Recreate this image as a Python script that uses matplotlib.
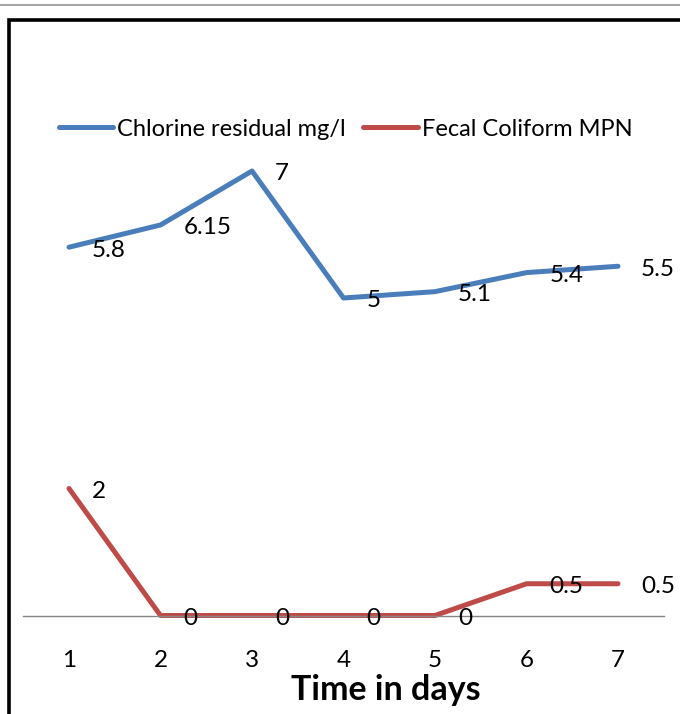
"""Chlorine residual and fecal coliform over seven days."""

import matplotlib
matplotlib.use("Agg")
import matplotlib.pyplot as plt
from matplotlib.lines import Line2D
from matplotlib.patches import Rectangle

days = [1, 2, 3, 4, 5, 6, 7]
day_labels = ["1", "2", "3", "4", "5", "6", "7"]
chlorine = [5.8, 6.15, 7, 5, 5.1, 5.4, 5.5]
chlorine_labels = ["5.8", "6.15", "7", "5", "5.1", "5.4", "5.5"]
coliform = [2, 0, 0, 0, 0, 0.5, 0.5]
coliform_labels = ["2", "0", "0", "0", "0", "0.5", "0.5"]

W, H = 680, 714
BLUE = "#4A7EBB"
RED = "#BE4B48"

plt.rcParams["font.family"] = ["Lato", "DejaVu Sans"]


def px(x, y):
    """Pixel position from the top-left corner to figure fraction."""
    return x / W, 1 - y / H


fig = plt.figure(figsize=(W / 100, H / 100), dpi=100)

# plot area: category 1..7 sits at x=69..618, value 0 at y=615.5, 63.5 px per unit
left, right = 23.25, 663.75
zero_y, per_unit, ymax = 615.5, 63.5, 8
ax = fig.add_axes([left / W, (H - zero_y) / H, (right - left) / W, ymax * per_unit / H])
ax.set_xlim(0.5, 7.5)
ax.set_ylim(0, ymax)

ax.plot(days, chlorine, color=BLUE, lw=3.6, solid_capstyle="round", clip_on=False,
        label="Chlorine residual mg/l")
ax.plot(days, coliform, color=RED, lw=3.6, solid_capstyle="round", clip_on=False,
        label="Fecal Coliform MPN")

for x, y, s in zip(days, chlorine, chlorine_labels):
    ax.annotate(s, (x, y), xytext=(23, -3), textcoords="offset pixels",
                ha="left", va="center", fontsize=17.5, color="black")
for x, y, s in zip(days, coliform, coliform_labels):
    ax.annotate(s, (x, y), xytext=(23, -3), textcoords="offset pixels",
                ha="left", va="center", fontsize=17.5, color="black", clip_on=False)

for side in ["left", "right", "top"]:
    ax.spines[side].set_visible(False)
ax.spines["bottom"].set_color("#868686")
ax.spines["bottom"].set_linewidth(1.0)
ax.set_yticks([])
ax.set_xticks(days)
ax.set_xticklabels(day_labels, fontsize=17.5)
ax.tick_params(axis="x", length=0, pad=25)

ax.set_xlabel("Time in days", fontsize=24.5, fontweight="bold")
ax.xaxis.set_label_coords((386 - left) / (right - left), (zero_y - 690) / (ymax * per_unit))
ax.xaxis.label.set_va("center")

handles = [Line2D([], [], color=BLUE, lw=3.6, solid_capstyle="round"),
           Line2D([], [], color=RED, lw=3.6, solid_capstyle="round")]
fig.legend(handles, ["Chlorine residual mg/l", "Fecal Coliform MPN"],
           loc="center", bbox_to_anchor=px(345.5, 129), ncol=2, frameon=False,
           fontsize=17, handlelength=2.3, handletextpad=0.17, columnspacing=0.76,
           borderpad=0)

# chart frame (cut off at right and bottom) and the gray rule above it
fig.add_artist(Rectangle(px(8.5, 760), 1.2, 740 / H, fill=False, edgecolor="black",
                         lw=2.6, transform=fig.transFigure))
fig.add_artist(Line2D([0, 1], [1 - 5 / H] * 2, color="#A6A6A6", lw=1.5,
                      transform=fig.transFigure))

fig.savefig("out.png", dpi=100)
